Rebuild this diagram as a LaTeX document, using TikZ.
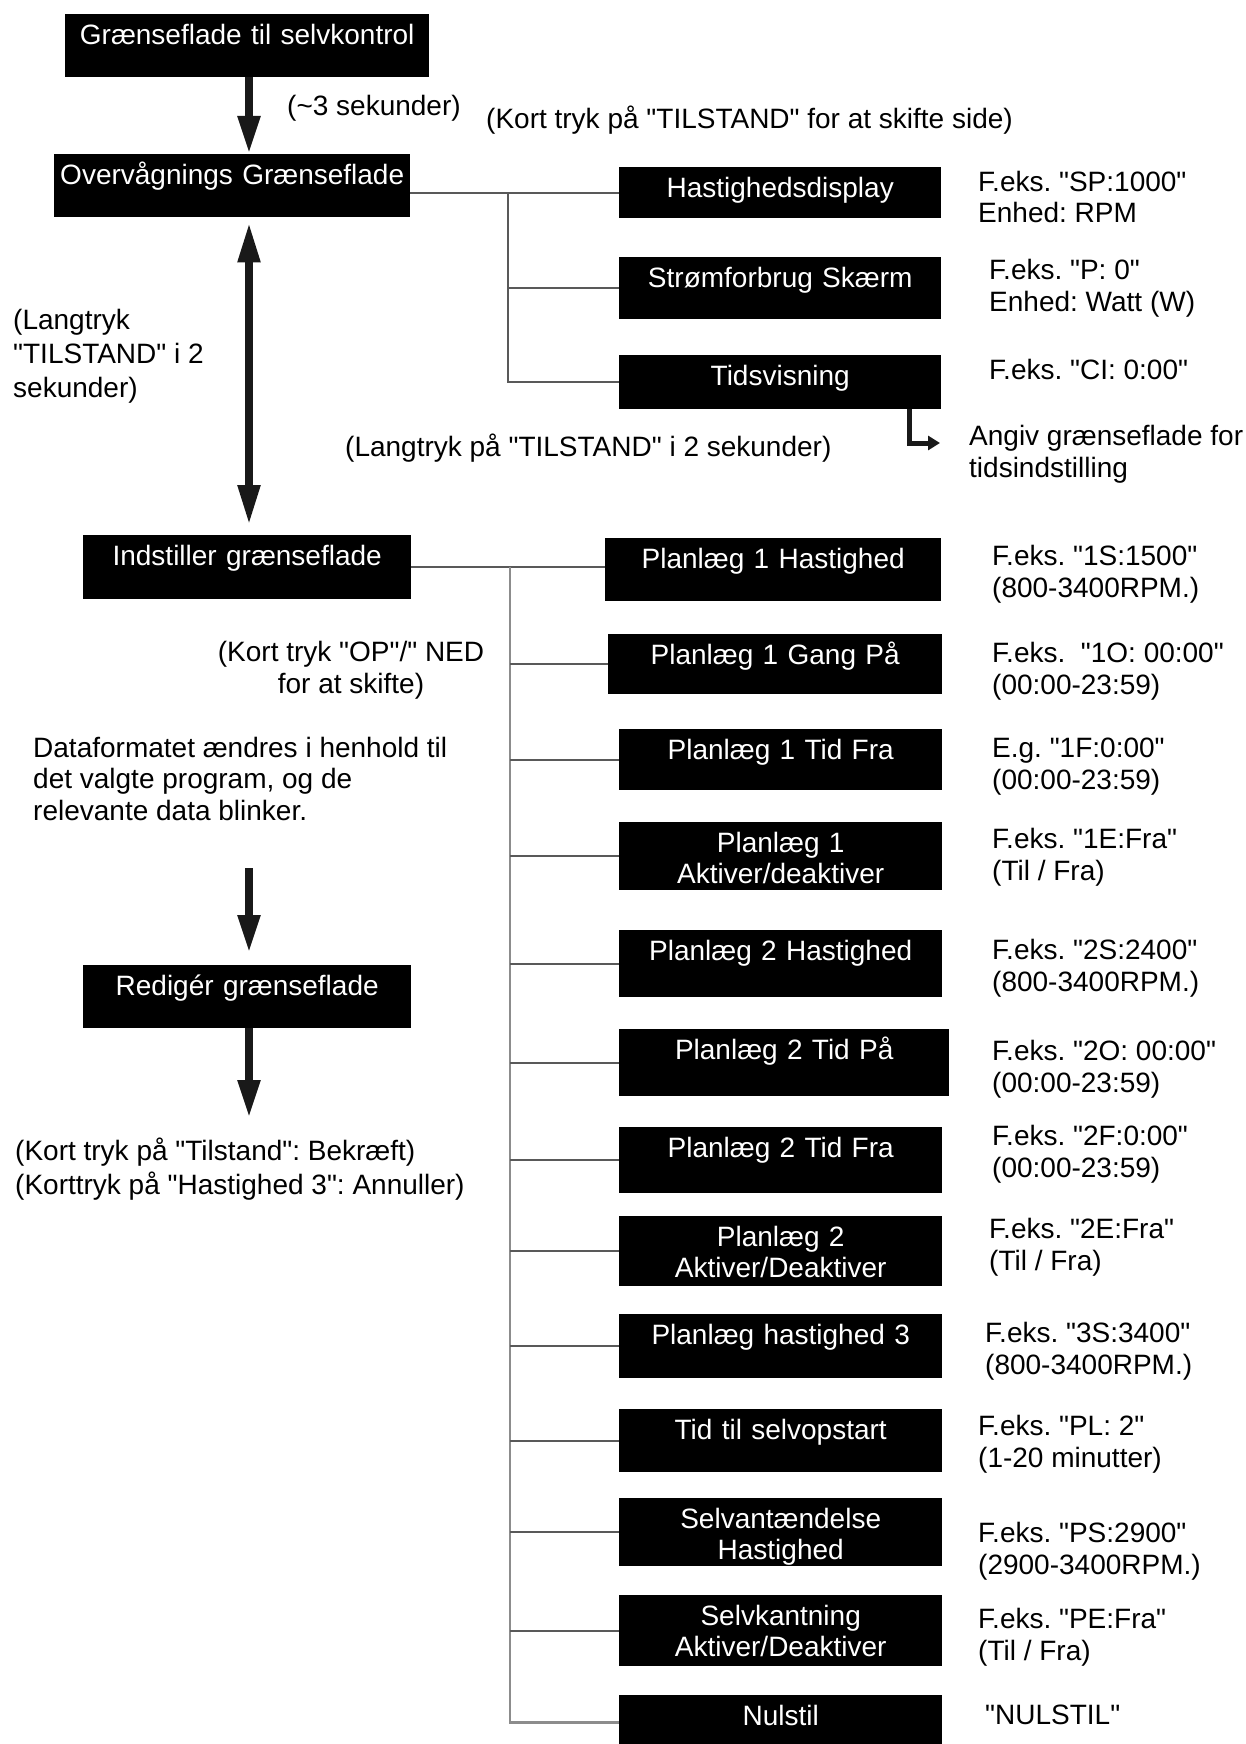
\documentclass[tikz,border=0pt]{standalone}
\usepackage{fontspec}
\newfontfamily\diafont{Liberation Sans}
\usetikzlibrary{positioning}
\usetikzlibrary{arrows.meta,calc}
\tikzset{basic/.style={inner sep=0pt,font=\diafont\fontsize{28}{31.5}\selectfont}}
\tikzset{box/.style={basic,fill=black,text=white,align=center,text width=#1,text height=30pt,text depth=33pt,anchor=north west},box/.default=323pt}
\tikzset{txt/.style={basic,align=left,anchor=base west}}
\tikzset{tree/.style={draw=black!65,line width=2pt}}
\tikzstyle{bigarrow}=[draw=black!90, line width=8pt, -{Triangle[width=21pt,length=38pt]}]
\tikzstyle{dblarrow}=[draw=black!90, line width=8pt, {Triangle[width=21pt,length=40pt]}-{Triangle[width=21pt,length=40pt]}]
\tikzstyle{larrow}=[draw=black!90, line width=5pt, -{Triangle[width=14pt,length=12pt]}]

\begin{document}
\frenchspacing
\begin{tikzpicture}[x=1pt,y=-1pt]
        \path[use as bounding box,fill=white] (0,0) rectangle (1246,1744);

        \node[box=364pt] (sk) at (65,14) {Grænseflade til selvkontrol};
        \node[box=356pt] (ov) at (54,154) {Overvågnings Grænseflade};
        \node[box=328pt,text depth=34pt] (ind) at (83,535) {Indstiller grænseflade};
        \node[box=328pt] (red) at (83,965) {Redigér grænseflade};

        \node[box=322pt,text depth=21pt] (hd) at (619,167) {Hastighedsdisplay};
        \node[box=322pt,text depth=32pt] (sf) at (619,257) {Strømforbrug Skærm};
        \node[box=322pt,text depth=24pt] (tv) at (619,355) {Tidsvisning};

        \node[box=336pt] (p1h) at (605,538) {Planlæg 1 Hastighed};
        \node[box=334pt,text depth=30pt] (p1g) at (608,634) {Planlæg 1 Gang På};
        \node[box,text depth=31pt] (p1t) at (619,729) {Planlæg 1 Tid Fra};
        \node[box,text depth=38pt] (p1a) at (619,822) {Planlæg 1\\Aktiver/deaktiver};
        \node[box,text depth=37pt] (p2h) at (619,930) {Planlæg 2 Hastighed};
        \node[box=330pt,text depth=37pt] (p2tp) at (619,1029) {Planlæg 2 Tid På};
        \node[box,text depth=36pt] (p2tf) at (619,1127) {Planlæg 2 Tid Fra};
        \node[box,text depth=40pt] (p2a) at (619,1216) {Planlæg 2\\Aktiver/Deaktiver};
        \node[box,text depth=34pt] (p3) at (619,1314) {Planlæg hastighed 3};
        \node[box,text depth=33pt] (ttl) at (619,1409) {Tid til selvopstart};
        \node[box,text depth=38pt] (sa) at (619,1498) {Selvantændelse\\Hastighed};
        \node[box,text depth=41pt] (sk2) at (619,1595) {Selvkantning\\Aktiver/Deaktiver};
        \node[box,text depth=25pt] (nul) at (619,1695) {Nulstil};

        \node[txt] (hdt) at (978,223) {F.eks. "SP:1000"\\Enhed: RPM};
        \node[txt] (sft) at (989,311) {F.eks. "P: 0"\\Enhed: Watt (W)};
        \node[txt] (tvt) at (989,379) {F.eks. "CI: 0:00"};
        \node[txt] (angiv) at (969,477) {Angiv grænseflade for\\tidsindstilling};
        \node[txt] (p1ht) at (992,597) {F.eks. "1S:1500"\\(800-3400RPM.)};
        \node[txt] (p1gt) at (992,694) {F.eks.\ \ "1O: 00:00"\\(00:00-23:59)};
        \node[txt] (p1tt) at (992,789) {E.g. "1F:0:00"\\(00:00-23:59)};
        \node[txt] (p1at) at (992,880) {F.eks. "1E:Fra"\\(Til / Fra)};
        \node[txt] (p2ht) at (992,991) {F.eks. "2S:2400"\\(800-3400RPM.)};
        \node[txt] (p2tpt) at (992,1092) {F.eks. "2O: 00:00"\\(00:00-23:59)};
        \node[txt] (p2tft) at (992,1177) {F.eks. "2F:0:00"\\(00:00-23:59)};
        \node[txt] (p2at) at (989,1270) {F.eks. "2E:Fra"\\(Til / Fra)};
        \node[txt] (p3t) at (985,1374) {F.eks. "3S:3400"\\(800-3400RPM.)};
        \node[txt] (ttlt) at (978,1467) {F.eks. "PL: 2"\\(1-20 minutter)};
        \node[txt] (sat) at (978,1574) {F.eks. "PS:2900"\\(2900-3400RPM.)};
        \node[txt] (sk2t) at (978,1660) {F.eks. "PE:Fra"\\(Til / Fra)};
        \node[txt] (nult) at (985,1724) {"NULSTIL"};

        \node[txt] (sek) at (287,116) {(\textasciitilde3 sekunder)};
        \node[txt] (side) at (486,129) {(Kort tryk på "TILSTAND" for at skifte side)};
        \node[txt,font=\diafont\fontsize{28}{34}\selectfont] (lang) at (13,397) {(Langtryk\\"TILSTAND" i 2\\sekunder)};
        \node[txt] (lang2) at (345,456) {(Langtryk på "TILSTAND" i 2 sekunder)};
        \node[basic,align=center,anchor=base] (op) at (351,693) {(Kort tryk "OP"/" NED\\for at skifte)};
        \node[txt] (data) at (33,820) {Dataformatet ændres i henhold til\\det valgte program, og de\\relevante data blinker.};
        \node[txt,font=\diafont\fontsize{28}{34}\selectfont] (bek) at (15,1194) {(Kort tryk på "Tilstand": Bekræft)\\(Korttryk på "Hastighed 3": Annuller)};

        \coordinate (ax) at (249,0);
        \coordinate (a3) at (249,868);
        \coordinate (a4) at (249,1118);
            \path[bigarrow] (sk.south -| ax) -- (ov.north -| ax);
            \path[dblarrow,shorten <=5pt,shorten >=10pt] (ov.south -| ax) -- (ind.north -| ax);
            \path[bigarrow,shorten >=12pt] (a3) -- (red.north -| ax);
            \path[bigarrow] (red.south -| ax) -- (a4);

        \coordinate (j1) at (508,0);
            \draw[tree] (ov.east |- hd.west) -- (hd.west);
            \draw[tree] (j1 |- hd.west) -- (j1 |- tv.west) -- (tv.west);
            \draw[tree] (j1 |- sf.west) -- (sf.west);

        \coordinate (tvend) at (940,443);
            \path[larrow] ([xshift=-32pt]tv.south east) |- (tvend);

        \coordinate (j2) at (510,0);
            \draw[tree] (ind.east) -- (ind.east -| p1h.west);
            \draw[tree,draw=black!45,line width=2.5pt] (j2 |- ind.east) -- (j2 |- nul.west) -- (nul.west);
        \foreach \b in {p1g,p1t,p1a,p2h,p2tp,p2tf,p2a,p3,ttl,sa,sk2}
            \draw[tree] (j2 |- \b.west) -- (\b.west);
\end{tikzpicture}
\end{document}
